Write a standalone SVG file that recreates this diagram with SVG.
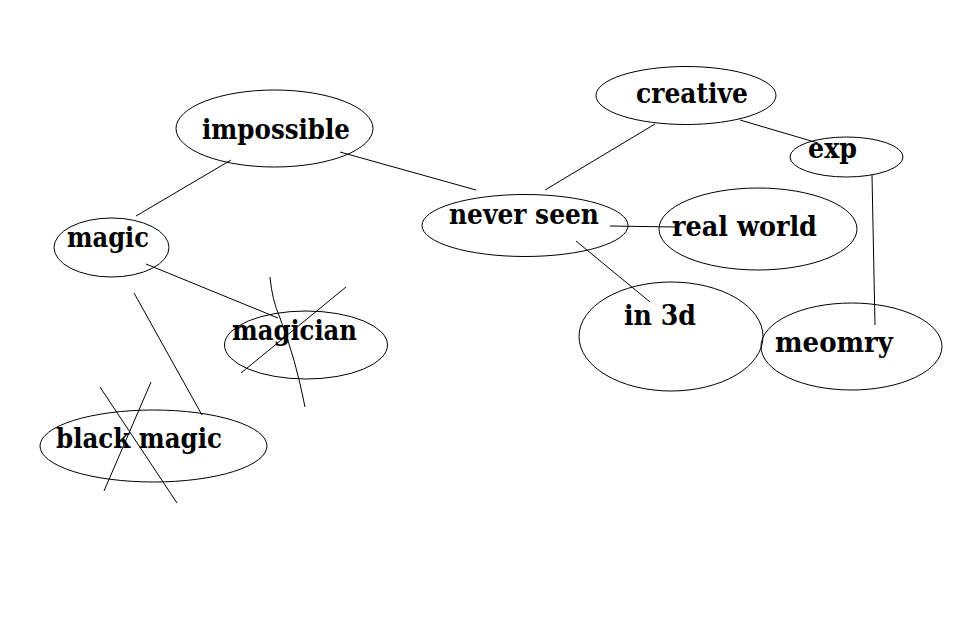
<svg xmlns="http://www.w3.org/2000/svg" width="962" height="617" viewBox="0 0 962 617">
<style>
.n ellipse{fill:none;stroke:#000;stroke-width:1}
.n text{font-family:"DejaVu Serif","Liberation Serif",serif;font-weight:bold;font-size:27px;fill:#000}
.c line,.c path{stroke:#000;stroke-width:1;fill:none}
</style>
<rect width="962" height="617" fill="#fff"/>
<g class="c" id="connectors">
<line x1="136" y1="216" x2="231" y2="160"/>
<line x1="340" y1="152" x2="476" y2="190"/>
<line x1="545" y1="190" x2="655" y2="124"/>
<line x1="740" y1="120" x2="818" y2="143"/>
<line x1="872" y1="175" x2="875" y2="325"/>
<line x1="610" y1="226" x2="676" y2="227"/>
<line x1="576" y1="241" x2="650" y2="302"/>
<line x1="146" y1="264" x2="278" y2="318"/>
<line x1="134" y1="293" x2="202" y2="415"/>
<path d="M270 277 Q272 300 280 318 Q296 360 305 407"/>
<line x1="346" y1="287" x2="241" y2="373"/>
<line x1="100" y1="387" x2="177" y2="503"/>
<line x1="151" y1="382" x2="104" y2="491"/>
</g>
<g class="n" id="impossible"><ellipse cx="274.5" cy="128.5" rx="98.5" ry="38.5"/><text x="202" y="139" textLength="148" lengthAdjust="spacingAndGlyphs">impossible</text></g>
<g class="n" id="magic"><ellipse cx="111.5" cy="247.5" rx="57.5" ry="29.5"/><text x="67" y="247" textLength="82" lengthAdjust="spacingAndGlyphs">magic</text></g>
<g class="n" id="magician"><ellipse cx="306" cy="345" rx="81.5" ry="34"/><text x="232" y="340" textLength="125" lengthAdjust="spacingAndGlyphs">magician</text></g>
<g class="n" id="black-magic"><ellipse cx="153.5" cy="446" rx="113.5" ry="36"/><text x="56" y="448" textLength="166" lengthAdjust="spacingAndGlyphs">black magic</text></g>
<g class="n" id="creative"><ellipse cx="686" cy="95.5" rx="90" ry="29"/><text x="636" y="103" textLength="112" lengthAdjust="spacingAndGlyphs">creative</text></g>
<g class="n" id="exp"><ellipse cx="846.5" cy="157" rx="56.5" ry="20"/><text x="808" y="158" textLength="49" lengthAdjust="spacingAndGlyphs">exp</text></g>
<g class="n" id="never-seen"><ellipse cx="525" cy="225.5" rx="103" ry="31"/><text x="449" y="224" textLength="150" lengthAdjust="spacingAndGlyphs">never seen</text></g>
<g class="n" id="real-world"><ellipse cx="758" cy="229" rx="99" ry="41"/><text x="672" y="236" textLength="145" lengthAdjust="spacingAndGlyphs">real world</text></g>
<g class="n" id="in-3d"><ellipse cx="671" cy="336.5" rx="92" ry="54.5"/><text x="624" y="325" textLength="72" lengthAdjust="spacingAndGlyphs">in 3d</text></g>
<g class="n" id="meomry"><ellipse cx="851.5" cy="346.5" rx="90.5" ry="43.5"/><text x="775" y="352" textLength="118" lengthAdjust="spacingAndGlyphs">meomry</text></g>
</svg>
